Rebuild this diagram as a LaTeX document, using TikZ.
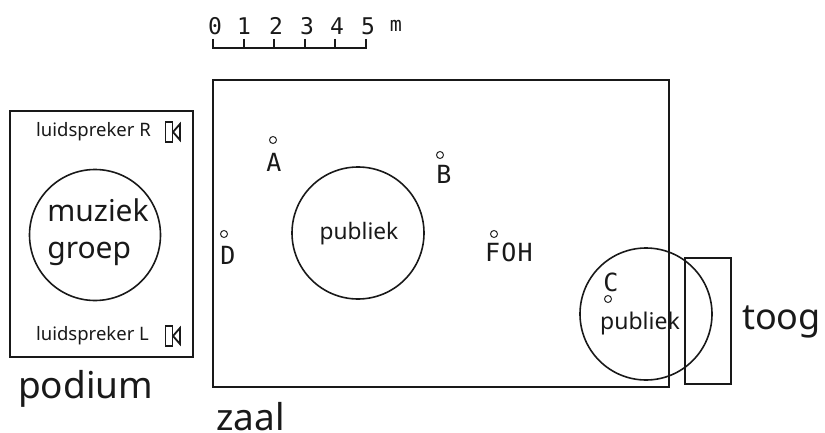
\documentclass[tikz,border=0pt]{standalone}
\usepackage{fontspec}
\setmainfont{Noto Sans}
\newfontfamily\cadfont{DejaVu Sans Mono}
\tikzset{
  x=1pt,y=-1pt,
  wall/.style={draw=black!90,line width=2pt},
  crowd/.style={draw=black!90,line width=1.6pt},
  spot/.style={circle,draw=black!85,line width=1pt,minimum size=7pt,inner sep=0pt},
  cad/.style={font=\cadfont\fontsize{25}{25}\selectfont,inner sep=0pt,text=black!90},
  cadsmall/.style={font=\cadfont\fontsize{23}{23}\selectfont,inner sep=0pt,text=black!90},
  lbl/.style={inner sep=0pt,text=black!90},
  tick/.style={line width=1.8pt,black!90},
}
\begin{document}
\begin{tikzpicture}
\useasboundingbox (0,0) rectangle (825,433);
% walls
\draw[wall] (213,80) rectangle (669,387);
\draw[wall] (10,111) rectangle (193,357);
\draw[wall] (685,258) rectangle (731,384);
% crowd circles
\draw[crowd] (95,235) circle[radius=65.5];
\draw[crowd] (358,233) circle[radius=66];
\draw[crowd] (646,314) circle[radius=66];
% scale bar
\draw[tick] (213,39) -- (213,48) -- (366,48) -- (366,39);
\foreach \x in {244,274,305,335} \draw[tick] (\x,39) -- (\x,48);
\foreach \x/\t in {215/0,244/1,276/2,307/3,337/4,368/5}
  \node[cadsmall] (s\t) at (\x,26) {\t};
\node[cadsmall,font=\cadfont\fontsize{20}{20}\selectfont] (sm) at (396,26) {m};
% measurement spots
\node[spot] (pa) at (273,140) {};
\node[spot] (pb) at (440,155) {};
\node[spot] (pd) at (224,234) {};
\node[spot] (pf) at (494,234) {};
\node[spot] (pc) at (608,299) {};
\node[cad] (la) at (274,162) {A};
\node[cad] (lb) at (444,174) {B};
\node[cad] (ld) at (228,255) {D};
\node[cad] (lf) at (509,252) {F\kern1.2pt O\kern1.2pt H};
\node[cad] (lc) at (611,282) {C};
% loudspeakers
\foreach \n/\y in {R/132,L/336}{
  \draw[tick] (165.5,\y-10) rectangle (172.5,\y+10);
  \draw[tick] (180,\y-8) -- (173,\y) -- (180,\y+8) -- cycle;
}
% labels
\node[lbl,font=\fontsize{18.5}{18.5}\selectfont] (lr) at (93.5,132) {luidspreker R};
\node[lbl,font=\fontsize{18.5}{18.5}\selectfont] (ll) at (92.5,336) {luidspreker L};
\node[lbl,font=\fontsize{30}{36}\selectfont,align=left] (mg) at (98,232) {muziek\\[1pt]groep};
\node[lbl,font=\fontsize{22.7}{23}\selectfont] (p1) at (359,234) {publiek};
\node[lbl,font=\fontsize{23}{23}\selectfont] (p2) at (640,324) {publiek};
\node[lbl,font=\fontsize{37}{37}\selectfont,anchor=base west] (pod) at (18,398) {podium};
\node[lbl,font=\fontsize{37}{37}\selectfont,anchor=base west] (za) at (216,430) {zaal};
\node[lbl,font=\fontsize{36}{36}\selectfont,anchor=base west] (to) at (742,329) {toog};
\end{tikzpicture}
\end{document}
